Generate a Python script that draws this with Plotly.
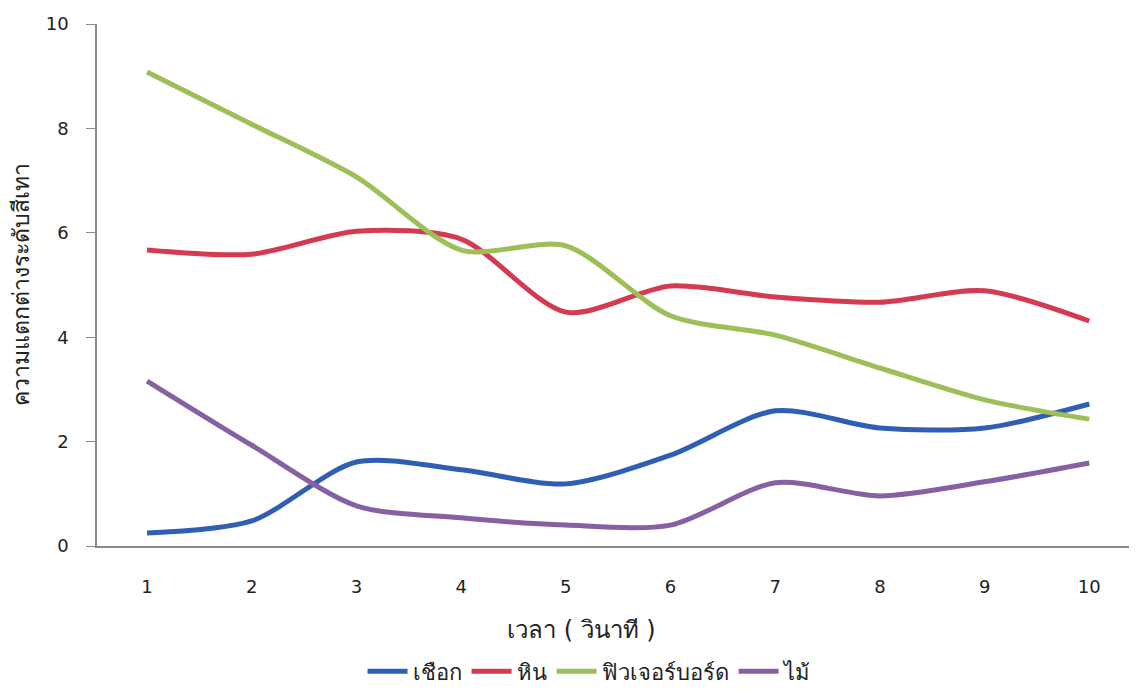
import plotly.graph_objects as go

time_s = [1, 2, 3, 4, 5, 6, 7, 8, 9, 10]
rope = [0.25, 0.48, 1.61, 1.46, 1.19, 1.74, 2.59, 2.26, 2.26, 2.72]
stone = [5.67, 5.59, 6.03, 5.88, 4.48, 4.98, 4.77, 4.67, 4.89, 4.31]
futureboard = [9.08, 8.08, 7.07, 5.67, 5.75, 4.41, 4.04, 3.41, 2.80, 2.43]
wood = [3.16, 1.93, 0.77, 0.54, 0.40, 0.40, 1.21, 0.96, 1.23, 1.59]

names = ["เชือก", "หิน", "ฟิวเจอร์บอร์ด", "ไม้"]
colors = ["#2f5fb5", "#d43b52", "#9dbf57", "#8760a3"]
series = [rope, stone, futureboard, wood]

fig = go.Figure()
for name, ys, c in zip(names, series, colors):
    fig.add_trace(go.Scatter(x=time_s, y=ys, name=name, mode="lines",
                             line=dict(color=c, width=5, shape="spline", smoothing=0.8)))

fig.update_layout(
    width=1137, height=686,
    margin=dict(l=89, r=0, t=16, b=148),
    paper_bgcolor="white", plot_bgcolor="white",
    font=dict(family="DejaVu Sans, Noto Sans, sans-serif", color="#222222"),
    showlegend=True,
    legend=dict(orientation="h", x=0.47, xanchor="center", yref="container", y=0.033,
                yanchor="middle", font=dict(size=22), itemwidth=40, tracegroupgap=0),
    annotations=[dict(text="เวลา ( วินาที )", xref="paper", yref="paper", x=0.462, y=-0.161,
                      xanchor="center", yanchor="middle", showarrow=False,
                      font=dict(size=24, color="#222222"))],
)
fig.update_xaxes(range=[0.522, 10.532], tickmode="array", tickvals=time_s,
                 ticktext=[str(v) for v in time_s], showgrid=False, zeroline=False,
                 showline=True, linecolor="#8a8a8a", linewidth=1.5, ticks="",
                 tickfont=dict(size=18), ticklabelstandoff=24)
fig.update_yaxes(range=[0, 10], tickvals=[0, 2, 4, 6, 8, 10], showgrid=False, zeroline=False,
                 showline=True, linecolor="#8a8a8a", linewidth=1.5, ticks="outside",
                 ticklen=9, tickcolor="#8a8a8a", tickfont=dict(size=18), ticklabelstandoff=14,
                 title=dict(text="ความแตกต่างระดับสีเทา", font=dict(size=23), standoff=10))

fig.write_html("out.html")
